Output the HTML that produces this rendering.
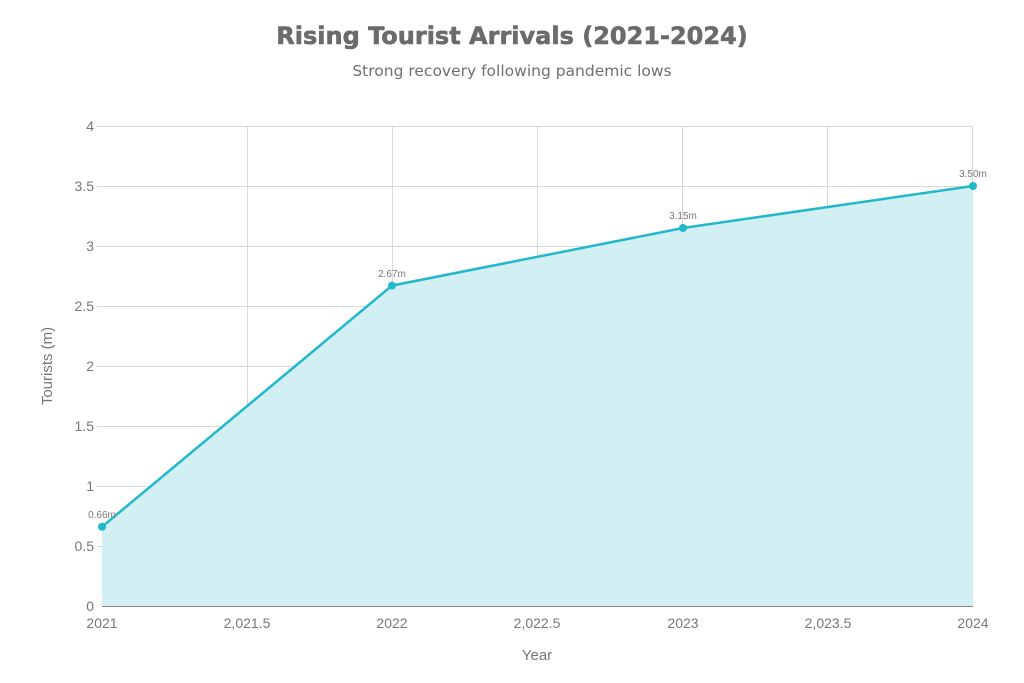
<!DOCTYPE html>
<html><head><meta charset="utf-8"><style>body{margin:0;background:#fff}svg{display:block}</style></head>
<body>
<svg width="1024" height="683" xmlns="http://www.w3.org/2000/svg" font-family="Liberation Sans, DejaVu Sans, sans-serif">
<rect width="1024" height="683" fill="#fff"/>
<text x="512" y="44" text-anchor="middle" font-family="DejaVu Sans, sans-serif" font-weight="bold" font-size="24" fill="#6b6b6b" stroke="#6b6b6b" stroke-width="0.6">Rising Tourist Arrivals (2021-2024)</text>
<text x="512" y="76" text-anchor="middle" font-family="DejaVu Sans, sans-serif" font-size="15.5" fill="#707070">Strong recovery following pandemic lows</text>
<g stroke="#d8d8d8" stroke-width="1">
<line x1="102" y1="126.5" x2="973" y2="126.5"/><line x1="102" y1="186.5" x2="973" y2="186.5"/><line x1="102" y1="246.5" x2="973" y2="246.5"/><line x1="102" y1="306.5" x2="973" y2="306.5"/><line x1="102" y1="366.5" x2="973" y2="366.5"/><line x1="102" y1="426.5" x2="973" y2="426.5"/><line x1="102" y1="486.5" x2="973" y2="486.5"/><line x1="102" y1="546.5" x2="973" y2="546.5"/>
<line x1="247.5" y1="126" x2="247.5" y2="606"/><line x1="392.5" y1="126" x2="392.5" y2="606"/><line x1="537.5" y1="126" x2="537.5" y2="606"/><line x1="682.5" y1="126" x2="682.5" y2="606"/><line x1="827.5" y1="126" x2="827.5" y2="606"/><line x1="972.5" y1="126" x2="972.5" y2="606"/>
<line x1="97" y1="126.5" x2="102" y2="126.5"/><line x1="97" y1="186.5" x2="102" y2="186.5"/><line x1="97" y1="246.5" x2="102" y2="246.5"/><line x1="97" y1="306.5" x2="102" y2="306.5"/><line x1="97" y1="366.5" x2="102" y2="366.5"/><line x1="97" y1="426.5" x2="102" y2="426.5"/><line x1="97" y1="486.5" x2="102" y2="486.5"/><line x1="97" y1="546.5" x2="102" y2="546.5"/>
</g>
<polygon points="102,526.8 392,285.6 683,228 973,186 973,606 102,606" fill="#d2eff3"/>
<line x1="102" y1="606.5" x2="973" y2="606.5" stroke="#888" stroke-width="1"/>
<polyline points="102,526.8 392,285.6 683,228 973,186" fill="none" stroke="#22b8cc" stroke-width="2.5"/>
<g fill="#22b8cc"><circle cx="102" cy="526.8" r="4"/><circle cx="392" cy="285.6" r="4"/><circle cx="683" cy="228" r="4"/><circle cx="973" cy="186" r="4"/></g>
<g font-size="10" fill="#777" text-anchor="middle">
<text x="102" y="518">0.66m</text><text x="392" y="277">2.67m</text><text x="683" y="219">3.15m</text><text x="973" y="177">3.50m</text>
</g>
<g font-size="14" fill="#777" text-anchor="end">
<text x="94" y="131">4</text><text x="94" y="191">3.5</text><text x="94" y="251">3</text><text x="94" y="311">2.5</text><text x="94" y="371">2</text><text x="94" y="431">1.5</text><text x="94" y="491">1</text><text x="94" y="551">0.5</text><text x="94" y="611">0</text>
</g>
<g font-size="14" fill="#777" text-anchor="middle">
<text x="102" y="628">2021</text><text x="247" y="628">2,021.5</text><text x="392" y="628">2022</text><text x="537" y="628">2,022.5</text><text x="683" y="628">2023</text><text x="828" y="628">2,023.5</text><text x="973" y="628">2024</text>
</g>
<text x="537" y="660" text-anchor="middle" font-size="15" fill="#777">Year</text>
<text transform="translate(52,366) rotate(-90)" text-anchor="middle" font-size="15" fill="#777">Tourists (m)</text>
</svg>
</body></html>
